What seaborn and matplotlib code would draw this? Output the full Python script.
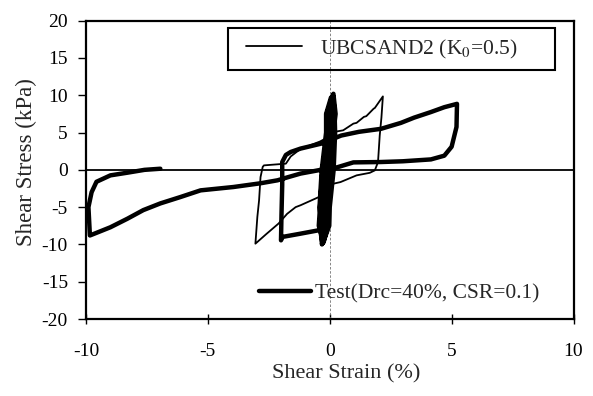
import numpy as np
import pandas as pd
import matplotlib
matplotlib.use("Agg")
import matplotlib.pyplot as plt
import seaborn as sns
from matplotlib.lines import Line2D
from matplotlib.patches import Rectangle

# ---------------- data ----------------
test_strain = [0.0, 0.1, 0.18, 0.12,
               -0.05, 0.0, -0.2, -0.35, -0.42, -0.3,
               -0.15, -0.15, 0.0, 0.1, 0.14, 0.08,
               -0.1, -0.1, -0.3, -0.4, -0.45, -0.25,
               -0.08, -0.1, 0.06, 0.15, 0.24, 0.15,
               0.02, 0.05, -0.12, -0.28, -0.35, -0.32,
               -0.2, -0.2, -0.06, 0.05, 0.1, 0.1,
               -0.12, -0.05, -0.25, -0.35, -0.38, -0.28,
               -0.02, 0.0, 0.16, 0.22, 0.2, 0.14,
               0.05, 0.08, -0.02, -0.2, -0.28, -0.3,
               -0.12, -0.25, -0.12, 0.0, 0.05, 0.05,
               -0.15, -0.15, -0.33, -0.42, -0.3,
               -0.45, -1.27, -1.95, -2.0, -1.98, -1.95,
               -1.95, -1.8, -1.6, -1.2, -0.37, 0.47, 1.2, 2.1, 2.92, 3.46, 4.15, 4.7, 5.22,
               5.2, 5.0, 4.7, 4.15, 3.0, 2.1, 0.97, 0.16, -0.37, -1.2, -1.73, -2.14, -2.84,
               -3.95, -5.3, -6.13, -6.95, -7.65, -8.3, -9.0, -9.84, -9.9, -9.77, -9.57,
               -9.0, -8.3, -7.6, -6.95]
test_stress = [0.0, 5.0, 7.5, 10.0,
               7.5, 5.0, 0.0, -5.0, -7.5, -9.9,
               -7.5, -5.0, 0.0, 5.0, 7.5, 9.6,
               7.5, 5.0, 0.0, -5.0, -7.5, -9.7,
               -7.5, -5.0, 0.0, 5.0, 7.5, 10.2,
               7.5, 5.0, 0.0, -5.0, -7.5, -10.0,
               -7.5, -5.0, 0.0, 5.0, 7.5, 9.8,
               7.5, 5.0, 0.0, -5.0, -7.5, -9.8,
               -7.5, -5.0, 0.0, 5.0, 7.5, 9.9,
               7.5, 5.0, 0.0, -5.0, -7.5, -9.6,
               -7.5, -5.0, 0.0, 5.0, 7.5, 9.7,
               7.5, 5.0, 0.0, -5.0, -8.1,
               -8.1, -8.6, -9.0, -9.45, -6.0, -2.0,
               1.05, 2.0, 2.4, 2.85, 3.5, 4.6, 5.1, 5.5, 6.3, 7.0, 7.75, 8.4, 8.85,
               5.75, 3.1, 1.9, 1.4, 1.15, 1.05, 1.0, 0.2, 0.0, -0.5, -1.0, -1.4, -1.8,
               -2.3, -2.75, -3.65, -4.5, -5.4, -6.55, -7.7, -8.8, -5.0, -3.0, -1.6,
               -0.74, -0.38, 0.0, 0.15]

ubc_strain = [0.0, 0.1, 0.15, 0.0, -0.2, -0.3, -0.15, 0.0, 0.2, 0.55, 0.97, 1.1, 1.4,
              1.5, 1.8, 1.85, 2.18, 2.12, 2.05, 1.98, 1.85, 1.64, 1.1, 0.44, 0.16,
              -0.37, -0.45, -1.2, -1.4, -1.75, -2.1, -2.6, -3.05, -2.97, -2.9, -2.84,
              -2.75, -2.7, -1.8, -1.6, -1.2, -0.4, 0.0]
ubc_stress = [0.0, 5.0, 9.0, 3.0, -4.0, -9.0, -3.0, 2.0, 5.1, 5.3, 6.2, 6.3, 7.1,
              7.2, 8.2, 8.3, 9.85, 7.0, 4.6, 1.05, -0.07, -0.4, -0.74, -1.64, -1.85,
              -3.4, -3.65, -4.75, -5.0, -5.9, -7.2, -8.6, -9.9, -6.3, -4.1, -0.97,
              0.4, 0.6, 0.83, 1.8, 2.8, 3.8, 4.5]

ubc_label = "UBCSAND2 (K$_0$=0.5)"
test_label = "Test(Drc=40%, CSR=0.1)"
x_ticks = [-10, -5, 0, 5, 10]
y_ticks = [-20, -15, -10, -5, 0, 5, 10, 15, 20]

# ---------------- style ----------------
sns.set_style("ticks")
plt.rcParams["font.family"] = ["Liberation Serif", "DejaVu Serif"]
plt.rcParams["mathtext.fontset"] = "stix"

fig = plt.figure(figsize=(5.93, 3.96), dpi=100)
ax = fig.add_axes([86 / 593, 1 - 319 / 396, (573.5 - 86) / 593, (319 - 20.7) / 396])

df_test = pd.DataFrame({"strain": test_strain, "stress": test_stress,
                        "order": range(len(test_strain))})
df_ubc = pd.DataFrame({"strain": ubc_strain, "stress": ubc_stress,
                       "order": range(len(ubc_strain))})

ax.axvline(0, color="0.45", lw=0.6, ls=(0, (3, 2)), zorder=1)
ax.axhline(0, color="black", lw=1.3, zorder=2)

sns.lineplot(data=df_ubc, x="strain", y="stress", sort=False, estimator=None,
             color="black", lw=1.3, ax=ax, zorder=3)
sns.lineplot(data=df_test, x="strain", y="stress", sort=False, estimator=None,
             color="black", lw=3.2, ax=ax, zorder=4)

ax.set_xlim(-10, 10)
ax.set_ylim(-20, 20)
ax.set_xticks(x_ticks)
ax.set_yticks(y_ticks)
ax.set_xticklabels([str(v) for v in x_ticks])
ax.set_yticklabels([str(v) for v in y_ticks])

for s in ax.spines.values():
    s.set_visible(True)
    s.set_linewidth(1.6)
    s.set_color("black")

ax.tick_params(axis="y", direction="out", length=6, width=1, pad=7,
               labelsize=14, colors="black")
ax.tick_params(axis="x", direction="inout", length=7, width=1, pad=14,
               labelsize=14, colors="black")

ax.set_xlabel("Shear Strain (%)", fontsize=16)
ax.set_ylabel("Shear Stress (kPa)", fontsize=16.5)
ax.xaxis.set_label_coords(0.534, -0.15)
ax.yaxis.set_label_coords(-0.10, 0.526)

# legend 1 (boxed)
h1 = [Line2D([0], [0], color="black", lw=1.3)]
leg1 = ax.legend(h1, [ubc_label], loc="center left",
                 bbox_to_anchor=((252 - 86) / 487.5 - 0.012, (319 - 49) / 298.3),
                 frameon=False, fontsize=15.5, handlelength=2.6,
                 handletextpad=0.85, borderpad=0.0, borderaxespad=0.0)
ax.add_artist(leg1)
ax.add_patch(Rectangle(((228 - 86) / 487.5, (319 - 70) / 298.3),
                       (555 - 228) / 487.5, (70 - 28) / 298.3,
                       transform=ax.transAxes, fill=False, lw=1.5,
                       edgecolor="black", zorder=5))

# legend 2 (no frame)
h2 = [Line2D([0], [0], color="black", lw=3.2)]
ax.legend(h2, [test_label], loc="center left",
          bbox_to_anchor=((265 - 86) / 487.5 - 0.012, (319 - 293) / 298.3),
          frameon=False, fontsize=15.5, handlelength=2.4,
          handletextpad=0.2, borderpad=0.0, borderaxespad=0.0)

fig.savefig("out.png", dpi=100)
